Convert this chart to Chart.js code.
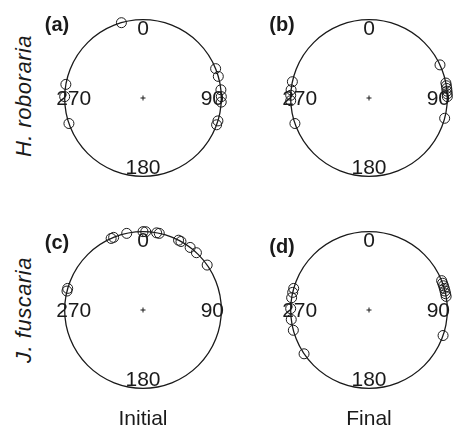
<!DOCTYPE html>
<html>
<head>
<meta charset="utf-8">
<script src="https://cdn.jsdelivr.net/npm/chart.js@4"></script>
<style>
  body { margin: 0; background: #fff; }
  #wrap { position: relative; width: 456px; height: 433px; overflow: hidden; font-family: "Liberation Sans", Arial, sans-serif; color: #1a1a1a; }
  .panel { position: absolute; width: 200px; height: 200px; }
  .ylab { position: absolute; left: 24px; font-size: 22px; letter-spacing: 0.5px; font-style: italic; white-space: nowrap; transform: translate(-50%, -50%) rotate(-90deg); }
  .xlab { position: absolute; top: 418px; font-size: 21px; white-space: nowrap; transform: translate(-50%, -50%); }
</style>
</head>
<body>
<div id="wrap">
  <div class="panel" style="left:43px;top:-2px"><canvas id="pa"></canvas></div>
  <div class="panel" style="left:269px;top:-2px"><canvas id="pb"></canvas></div>
  <div class="panel" style="left:43px;top:210px"><canvas id="pc"></canvas></div>
  <div class="panel" style="left:269px;top:210px"><canvas id="pd"></canvas></div>
  <div class="ylab" style="top:96px">H. roboraria</div>
  <div class="ylab" style="top:310px">J. fuscaria</div>
  <div class="xlab" style="left:143px">Initial</div>
  <div class="xlab" style="left:369px">Final</div>
</div>
<script>
// headings in degrees (0 = up, clockwise)
const anglesA = [344, 68, 74, 84, 89, 93, 107, 110, 280, 271, 251];
const anglesB = [65, 79, 81, 83, 85, 87, 89, 105, 282, 276, 272, 268, 251];
const anglesC = [336, 338, 348, 0, 2, 10, 12, 27, 29, 37, 43, 55, 284, 286];
const anglesD = [68, 70, 72, 74, 76, 78, 80, 109, 286, 283, 279, 271, 263, 255, 236];
const tickLabels = ["0", "90", "180", "270"];
const tickAngles = [0, 90, 180, 270];
const panelNames = ["(a)", "(b)", "(c)", "(d)"];

// circle outline, centre cross, compass labels and panel letter
const compassPlugin = {
  id: "compass",
  afterDraw(chart, args, opts) {
    const ctx = chart.ctx;
    const xs = chart.scales.x, ys = chart.scales.y;
    const cx = xs.getPixelForValue(0), cy = ys.getPixelForValue(0);
    const r = xs.getPixelForValue(1) - cx;
    ctx.save();
    ctx.strokeStyle = "#1a1a1a";
    ctx.lineWidth = 1.3;
    ctx.beginPath();
    ctx.arc(cx, cy, r, 0, Math.PI * 2);
    ctx.stroke();
    ctx.lineWidth = 1;
    ctx.beginPath();
    ctx.moveTo(cx - 2.5, cy); ctx.lineTo(cx + 2.5, cy);
    ctx.moveTo(cx, cy - 2.5); ctx.lineTo(cx, cy + 2.5);
    ctx.stroke();
    ctx.fillStyle = "#1a1a1a";
    ctx.font = '21px "Liberation Sans", Arial, sans-serif';
    ctx.textAlign = "center";
    ctx.textBaseline = "middle";
    tickLabels.forEach((t, i) => {
      const a = tickAngles[i] * Math.PI / 180;
      ctx.fillText(t, xs.getPixelForValue(0.885 * Math.sin(a)), ys.getPixelForValue(0.885 * Math.cos(a)) + 1);
    });
    ctx.font = 'bold 20px "Liberation Sans", Arial, sans-serif';
    ctx.fillText(opts.name, opts.lx, opts.ly);
    ctx.restore();
  }
};

function makePanel(id, angles, name, lx, ly) {
  const pts = angles.map(d => ({
    x: Math.sin(d * Math.PI / 180),
    y: Math.cos(d * Math.PI / 180)
  }));
  return new Chart(document.getElementById(id).getContext("2d"), {
    type: "scatter",
    data: {
      datasets: [{
        data: pts,
        pointRadius: 5,
        pointHoverRadius: 5,
        borderWidth: 1,
        borderColor: "#1a1a1a",
        backgroundColor: "rgba(0,0,0,0)",
        clip: false
      }]
    },
    options: {
      responsive: true,
      maintainAspectRatio: false,
      animation: false,
      events: [],
      layout: { padding: 0 },
      scales: {
        x: { type: "linear", min: -1.2, max: 1.2, display: false },
        y: { type: "linear", min: -1.2, max: 1.2, display: false }
      },
      plugins: {
        legend: { display: false },
        tooltip: { enabled: false },
        compass: { name: name, lx: lx, ly: ly }
      }
    },
    plugins: [compassPlugin]
  });
}

makePanel("pa", anglesA, panelNames[0], 14, 27);
makePanel("pb", anglesB, panelNames[1], 13, 27);
makePanel("pc", anglesC, panelNames[2], 14, 33);
makePanel("pd", anglesD, panelNames[3], 13, 37);
</script>
</body>
</html>
